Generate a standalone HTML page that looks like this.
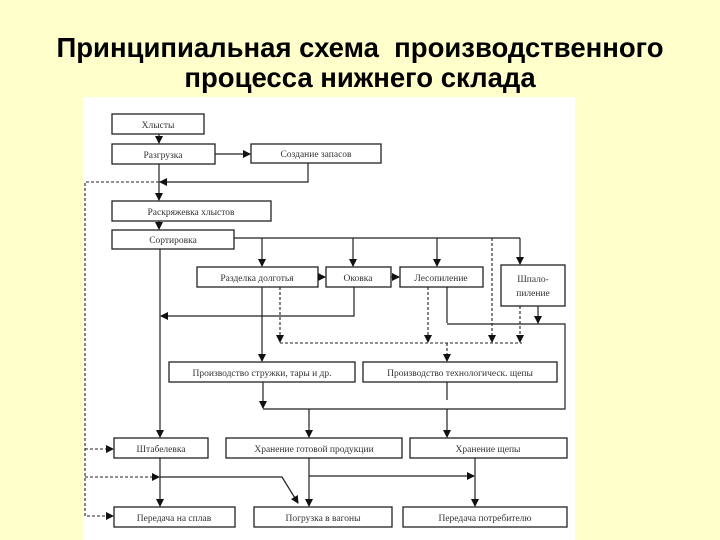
<!DOCTYPE html>
<html><head><meta charset="utf-8"><style>
html,body{margin:0;padding:0;background:#ffffcc;width:720px;height:540px;overflow:hidden}
.t{position:absolute;left:0;width:720px;text-align:center;font:bold 27.5px "Liberation Sans",sans-serif;color:#000;line-height:32px}
svg{position:absolute;left:0;top:0}
</style></head><body>
<div class="t" style="top:32px">Принципиальная схема&nbsp; производственного</div>
<div class="t" style="top:62px">процесса нижнего склада</div>
<svg width="720" height="540" viewBox="0 0 720 540">
<defs><marker id="a" markerWidth="8" markerHeight="8" refX="7" refY="4" orient="auto" markerUnits="userSpaceOnUse"><path d="M0,0L8,4L0,8z" fill="#111"/></marker></defs>
<rect x="83" y="97" width="492" height="443" fill="#fff"/>
<g fill="#fff" stroke="#222" stroke-width="1.3">
<rect x="112" y="114" width="92" height="20"/>
<rect x="112" y="144" width="103" height="20"/>
<rect x="251" y="144" width="130" height="19"/>
<rect x="112" y="201" width="159" height="20"/>
<rect x="112" y="230" width="122" height="19"/>
<rect x="197" y="267" width="121" height="20"/>
<rect x="326" y="267" width="65" height="20"/>
<rect x="400" y="267" width="83" height="20"/>
<rect x="501" y="265" width="64" height="41"/>
<rect x="169" y="362" width="186" height="20"/>
<rect x="363" y="362" width="194" height="20"/>
<rect x="114" y="438" width="94" height="20"/>
<rect x="226" y="438" width="176" height="20"/>
<rect x="410" y="438" width="157" height="20"/>
<rect x="114" y="507" width="121" height="20"/>
<rect x="254" y="507" width="138" height="20"/>
<rect x="403" y="507" width="164" height="20"/>
</g>
<g fill="none" stroke="#222" stroke-width="1.2">
<path d="M159 134V143" marker-end="url(#a)"/>
<path d="M215 154H250" marker-end="url(#a)"/>
<path d="M159 164V200" marker-end="url(#a)"/>
<path d="M308 163V182H160" marker-end="url(#a)"/>
<path d="M159 221V229" marker-end="url(#a)"/>
<path d="M234 238H520"/>
<path d="M262 238V266" marker-end="url(#a)"/>
<path d="M353 238V266" marker-end="url(#a)"/>
<path d="M437 238V266" marker-end="url(#a)"/>
<path d="M520 238V264" marker-end="url(#a)"/>
<path d="M318 277H325" marker-end="url(#a)"/>
<path d="M391 277H399" marker-end="url(#a)"/>
<path d="M160 249V437" marker-end="url(#a)"/>
<path d="M354 287V316H161" marker-end="url(#a)"/>
<path d="M262 287V361" marker-end="url(#a)"/>
<path d="M447 287V323"/>
<path d="M447 324H565V409H263"/>
<path d="M538 306V323" marker-end="url(#a)"/>
<path d="M263 382V408" marker-end="url(#a)"/>
<path d="M447 382V400"/>
<path d="M309 409V437" marker-end="url(#a)"/>
<path d="M447 409V437" marker-end="url(#a)"/>
<path d="M160 477H282L298 503" marker-end="url(#a)"/>
<path d="M160 458V506" marker-end="url(#a)"/>
<path d="M309 458V506" marker-end="url(#a)"/>
<path d="M309 476H474" marker-end="url(#a)"/>
<path d="M475 458V506" marker-end="url(#a)"/>
</g>
<g fill="none" stroke="#222" stroke-width="1.1" stroke-dasharray="3,2">
<path d="M159 182H85V516H113" marker-end="url(#a)"/>
<path d="M85 449H113" marker-end="url(#a)"/>
<path d="M85 477H159" marker-end="url(#a)"/>
<path d="M280 287V342" marker-end="url(#a)"/>
<path d="M280 343H522"/>
<path d="M428 287V342" marker-end="url(#a)"/>
<path d="M492 238V342" marker-end="url(#a)"/>
<path d="M520 306V342" marker-end="url(#a)"/>
<path d="M447 343V361" marker-end="url(#a)"/>
</g>
<g font-family="Liberation Serif,serif" font-size="9.5" fill="#333" text-anchor="middle">
<text x="158" y="128">Хлысты</text>
<text x="163" y="158">Разгрузка</text>
<text x="316" y="157">Создание запасов</text>
<text x="191" y="215">Раскряжевка хлыстов</text>
<text x="173" y="243">Сортировка</text>
<text x="257" y="281">Разделка долготья</text>
<text x="358" y="281">Оковка</text>
<text x="441" y="281">Лесопиление</text>
<text x="533" y="282">Шпало-</text>
<text x="533" y="296">пиление</text>
<text x="262" y="376">Производство стружки, тары и др.</text>
<text x="460" y="376">Производство технологическ. щепы</text>
<text x="161" y="452">Штабелевка</text>
<text x="314" y="452">Хранение готовой продукции</text>
<text x="488" y="452">Хранение щепы</text>
<text x="174" y="521">Передача на сплав</text>
<text x="323" y="521">Погрузка в вагоны</text>
<text x="485" y="521">Передача потребителю</text>
</g>
</svg>
</body></html>
